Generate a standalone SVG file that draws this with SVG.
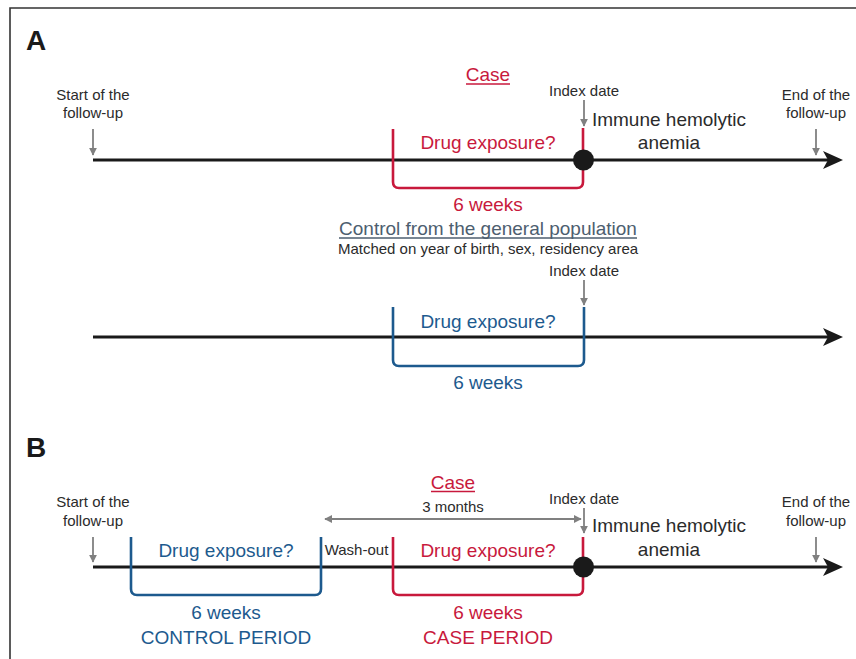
<svg xmlns="http://www.w3.org/2000/svg" width="856" height="659" viewBox="0 0 856 659">
<style>
text{font-family:"Liberation Sans",Arial,sans-serif;text-anchor:middle}
.big{font-size:19px}
.sm{font-size:15px;fill:#2b2b2b}
.lbl{font-size:28px;font-weight:bold;fill:#1a1a1a;text-anchor:start}
.red{fill:#c8193c}
.blue{fill:#1d5a8e}
.slate{fill:#4d5e6f}
.blk{fill:#2b2b2b}
.tl{stroke:#1a1a1a;stroke-width:3;fill:none}
.ga{stroke:#808080;stroke-width:1.8;fill:none;marker-end:url(#gh)}
.br{fill:none;stroke-width:2.6}
.rb{stroke:#c8193c}
.bb{stroke:#1d5a8e}
</style>
<defs>
<marker id="gh" viewBox="0 0 10 10" refX="9" refY="5" markerWidth="4.5" markerHeight="4.5" orient="auto" markerUnits="strokeWidth">
<path d="M0,0 L10,5 L0,10 Z" fill="#808080"/>
</marker>
<marker id="gs" viewBox="0 0 10 10" refX="1" refY="5" markerWidth="4.5" markerHeight="4.5" orient="auto" markerUnits="strokeWidth">
<path d="M10,0 L0,5 L10,10 Z" fill="#808080"/>
</marker>
</defs>
<path d="M10,659 V8 H856" fill="none" stroke="#333" stroke-width="1.6"/>

<g id="panelA">
<text class="lbl" x="26" y="50">A</text>
<g id="connectorsA">
<path class="tl" d="M93,160 H830"/>
<path d="M843,160 L823,151 L828,160 L823,169 Z" fill="#1a1a1a"/>
<path class="ga" d="M93,129 V155"/>
<path class="ga" d="M816,129 V155"/>
<path class="ga" d="M584,100 V126"/>
<path class="tl" d="M93,337 H830"/>
<path d="M843,337 L823,328 L828,337 L823,346 Z" fill="#1a1a1a"/>
<path class="ga" d="M584,280 V305"/>
</g>
<g id="startA"><text class="sm" x="93" y="100">Start of the</text><text class="sm" x="93" y="118">follow-up</text></g>
<g id="endA"><text class="sm" x="816" y="100">End of the</text><text class="sm" x="816" y="118">follow-up</text></g>
<g id="caseA"><text class="big red" x="488" y="81">Case</text><line x1="466" y1="84" x2="510" y2="84" stroke="#c8193c" stroke-width="1.3"/></g>
<g id="indexA1"><text class="sm" x="584" y="96">Index date</text></g>
<g id="bracketA1">
<path class="br rb" d="M393,129 V182 Q393,188 399,188 H577 Q583,188 583,182 V128"/>
<text class="big red" x="488" y="149">Drug exposure?</text>
<text class="big red" x="488" y="211">6 weeks</text>
</g>
<g id="eventA"><circle cx="583.5" cy="160" r="10.5" fill="#1a1a1a"/>
<text class="big blk" x="669" y="125.5">Immune hemolytic</text><text class="big blk" x="669" y="148.5">anemia</text></g>
<g id="controlA">
<text class="big slate" x="488" y="235">Control from the general population</text>
<line x1="339" y1="238" x2="637" y2="238" stroke="#4d5e6f" stroke-width="1.3"/>
<text class="sm" x="488" y="253.5">Matched on year of birth, sex, residency area</text>
</g>
<g id="indexA2"><text class="sm" x="584" y="276">Index date</text></g>
<g id="bracketA2">
<path class="br bb" d="M393,307 V360 Q393,366 399,366 H578 Q584,366 584,360 V307"/>
<text class="big blue" x="488" y="327.5">Drug exposure?</text>
<text class="big blue" x="488" y="388.5">6 weeks</text>
</g>
</g>

<g id="panelB">
<text class="lbl" x="26" y="457">B</text>
<g id="connectorsB">
<path class="tl" d="M93,567 H830"/>
<path d="M843,567 L823,558 L828,567 L823,576 Z" fill="#1a1a1a"/>
<path class="ga" d="M93,537 V562"/>
<path class="ga" d="M816,537 V562"/>
<path class="ga" d="M584,508 V533"/>
<path d="M325,519 H581" stroke="#808080" stroke-width="1.8" fill="none" marker-start="url(#gs)" marker-end="url(#gh)"/>
</g>
<g id="startB"><text class="sm" x="93" y="507">Start of the</text><text class="sm" x="93" y="526">follow-up</text></g>
<g id="endB"><text class="sm" x="816" y="507">End of the</text><text class="sm" x="816" y="526">follow-up</text></g>
<g id="caseB"><text class="big red" x="453" y="488.5">Case</text><line x1="431" y1="491.5" x2="475" y2="491.5" stroke="#c8193c" stroke-width="1.3"/></g>
<g id="monthsB"><text class="sm" x="453" y="512">3 months</text></g>
<g id="indexB"><text class="sm" x="584" y="503.5">Index date</text></g>
<g id="controlPeriod">
<path class="br bb" d="M131,537 V589 Q131,595 137,595 H315 Q321,595 321,589 V537"/>
<text class="big blue" x="226" y="556.5">Drug exposure?</text>
<text class="big blue" x="226" y="618.5">6 weeks</text>
<text class="big blue" x="226" y="643.5">CONTROL PERIOD</text>
</g>
<g id="washout"><text class="sm" x="356.5" y="555">Wash-out</text></g>
<g id="casePeriod">
<path class="br rb" d="M393,537 V589 Q393,595 399,595 H577 Q583,595 583,589 V537"/>
<text class="big red" x="488" y="556.5">Drug exposure?</text>
<text class="big red" x="488" y="618.5">6 weeks</text>
<text class="big red" x="488" y="643.5">CASE PERIOD</text>
</g>
<g id="eventB"><circle cx="583.5" cy="567" r="10.5" fill="#1a1a1a"/>
<text class="big blk" x="669" y="531.5">Immune hemolytic</text><text class="big blk" x="669" y="555.5">anemia</text></g>
</g>
</svg>
